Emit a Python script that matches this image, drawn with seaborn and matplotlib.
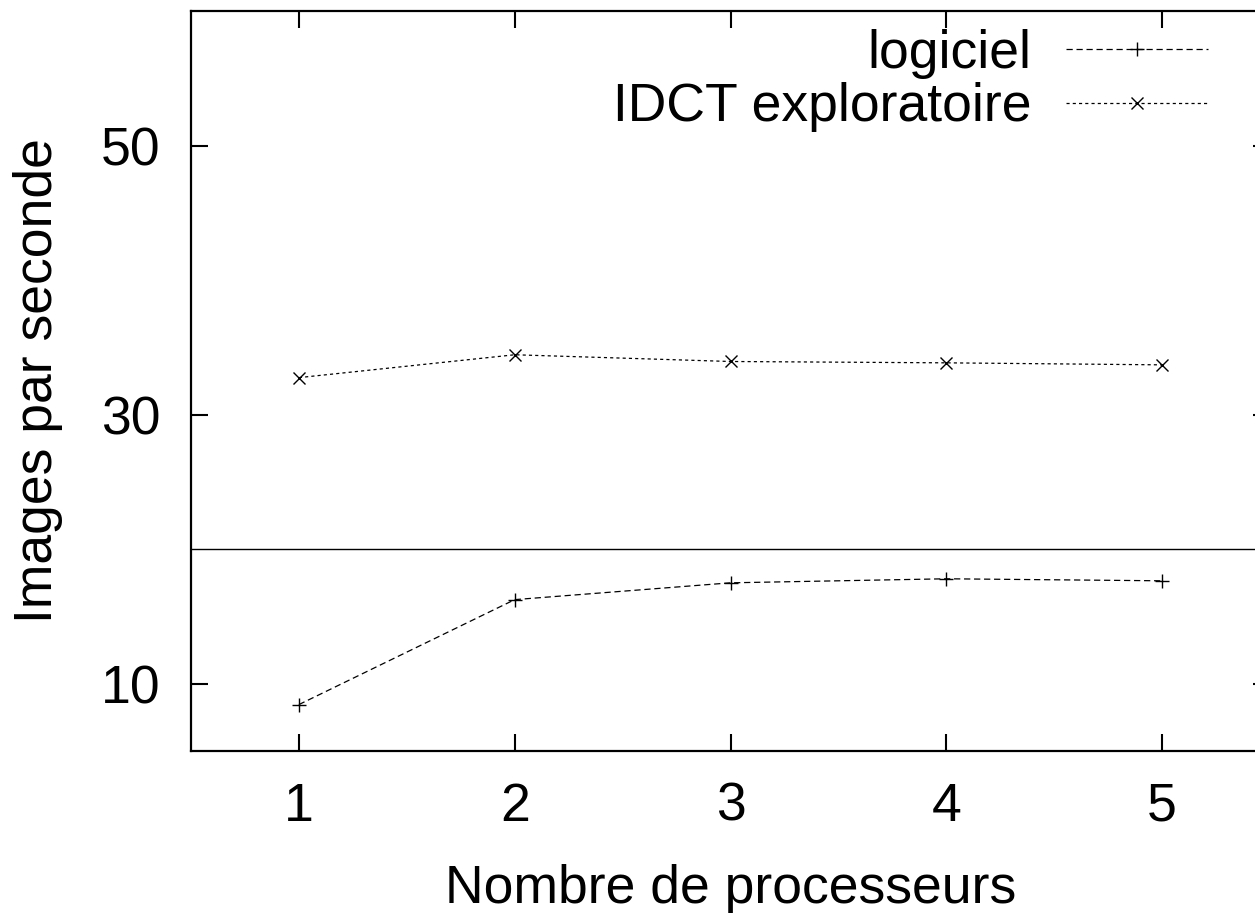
import matplotlib
matplotlib.use("Agg")
import matplotlib.pyplot as plt
import seaborn as sns
import pandas as pd

processeurs = [1, 2, 3, 4, 5]
logiciel = [8.45, 16.25, 17.5, 17.8, 17.65]
idct = [32.75, 34.45, 33.95, 33.85, 33.7]
seuil = 20
y_ticks = [10, 30, 50]

sns.set_style("white")
plt.rcParams['font.family'] = ['Liberation Sans', 'DejaVu Sans']
plt.rcParams['text.color'] = 'black'
plt.rcParams['axes.labelcolor'] = 'black'
plt.rcParams['xtick.color'] = 'black'
plt.rcParams['ytick.color'] = 'black'

FS = 38.5

fig = plt.figure(figsize=(12.55, 9.13), dpi=100)
ax = fig.add_axes([191/1255, 1 - 751/913, (1270 - 191)/1255, (751 - 11)/913])

df_l = pd.DataFrame({"x": processeurs, "y": logiciel})
df_i = pd.DataFrame({"x": processeurs, "y": idct})

sns.lineplot(data=df_l, x="x", y="y", ax=ax, color="black", lw=0.9,
             linestyle=(0, (5, 3)), marker="+", markersize=10, markeredgewidth=1.0,
             markeredgecolor="black", label="logiciel")
sns.lineplot(data=df_i, x="x", y="y", ax=ax, color="black", lw=0.9,
             linestyle=(0, (2.5, 2.5)), marker="x", markersize=8.5, markeredgewidth=1.0,
             markeredgecolor="black", label="IDCT exploratoire")
ax.axhline(seuil, color="black", lw=1.0)

ax.set_xlim(0.5, 5.5)
ax.set_ylim(5, 60)
ax.set_xticks(processeurs)
ax.set_yticks(y_ticks)
ax.tick_params(axis="x", direction="in", length=12, width=1.5, labelsize=FS,
               top=True, bottom=True, pad=22)
ax.tick_params(axis="y", direction="in", length=12, width=1.5, labelsize=FS,
               left=True, right=True, pad=22)
for s in ax.spines.values():
    s.set_linewidth(1.6)
    s.set_color("black")

ax.set_xlabel("Nombre de processeurs", fontsize=FS, labelpad=23)
ax.set_ylabel("Images par seconde", fontsize=FS, labelpad=27)

leg = ax.legend(loc="upper right",
                bbox_to_anchor=((1216 - 191)/(1270 - 191), 1.0 - 10/740),
                frameon=False, fontsize=FS, markerfirst=False, handlelength=2.65,
                handletextpad=0.65, labelspacing=0.06, borderaxespad=0.0,
                borderpad=0.15)

fig.savefig("out.png", dpi=100)
